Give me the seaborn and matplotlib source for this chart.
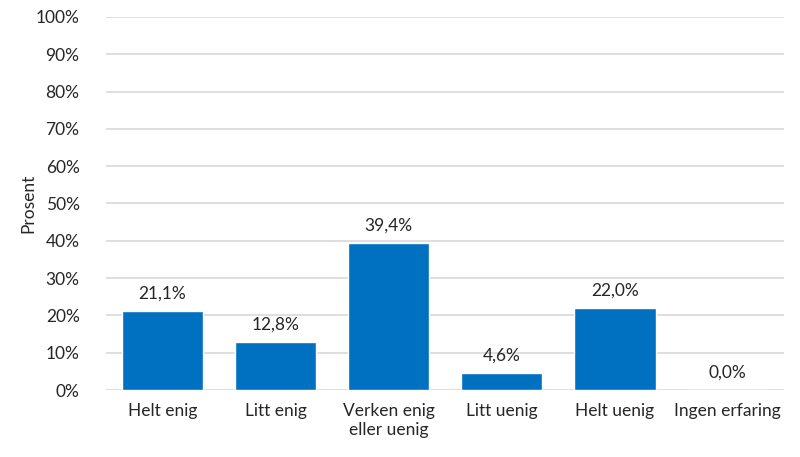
import matplotlib
matplotlib.use("Agg")
import matplotlib.pyplot as plt
import seaborn as sns
import pandas as pd

categories = ["Helt enig", "Litt enig", "Verken enig\neller uenig", "Litt uenig", "Helt uenig", "Ingen erfaring"]
values = [21.1, 12.8, 39.4, 4.6, 22.0, 0.0]
yticks = [0, 10, 20, 30, 40, 50, 60, 70, 80, 90, 100]

sns.set_theme(style="white")
plt.rcParams["font.family"] = ["Lato", "DejaVu Sans"]

df = pd.DataFrame({"kategori": categories, "prosent": values})

fig = plt.figure(figsize=(8, 4.57), dpi=100)
ax = fig.add_axes([0.1325, 0.1466, 0.848, 0.8164])
sns.barplot(data=df, x="kategori", y="prosent", color="#0070C0", saturation=1,
            width=0.72, ax=ax, zorder=3)

fs = 12.5
ax.set_ylim(0, 100)
ax.set_yticks(yticks)
ax.set_yticklabels([f"{t}%" for t in yticks], fontsize=fs, color="#262626")
ax.set_xlim(-0.5, len(categories) - 0.5)
ax.yaxis.grid(True, color="#D9D9D9", linewidth=1.2, zorder=0)
ax.set_axisbelow(True)
for s in ax.spines.values():
    s.set_visible(False)
ax.tick_params(axis="x", length=0, pad=9)
ax.tick_params(axis="y", length=0, pad=19)
for lbl in ax.get_xticklabels():
    lbl.set_fontsize(fs)
    lbl.set_color("#262626")
    lbl.set_linespacing(1.25)
ax.set_xlabel("")
ax.set_ylabel("Prosent", fontsize=fs, color="#262626")
ax.yaxis.set_label_coords(-0.102, 0.5)

for i, v in enumerate(values):
    ax.text(i, v + 2.5, f"{v:.1f}%".replace(".", ","), ha="center", va="bottom",
            fontsize=fs, color="#262626")

fig.savefig("out.png", dpi=100)
